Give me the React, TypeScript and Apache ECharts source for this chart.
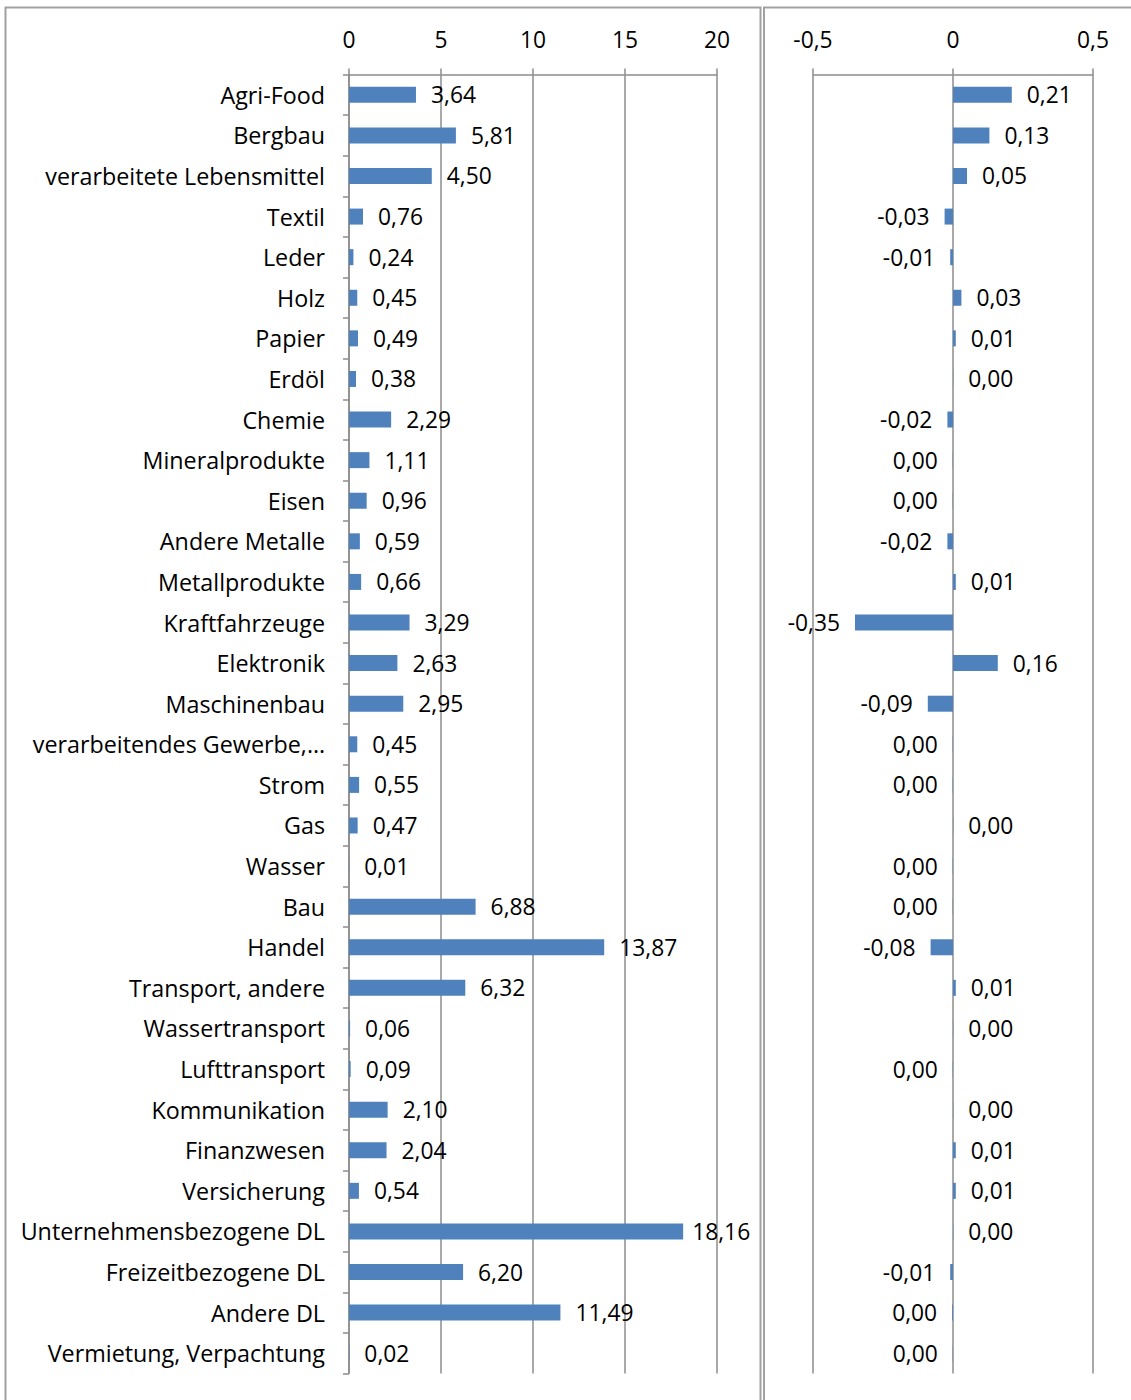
import React, { useEffect, useRef } from "react";
import * as echarts from "echarts";

const categories = [
  "Agri-Food",
  "Bergbau",
  "verarbeitete Lebensmittel",
  "Textil",
  "Leder",
  "Holz",
  "Papier",
  "Erdöl",
  "Chemie",
  "Mineralprodukte",
  "Eisen",
  "Andere Metalle",
  "Metallprodukte",
  "Kraftfahrzeuge",
  "Elektronik",
  "Maschinenbau",
  "verarbeitendes Gewerbe,…",
  "Strom",
  "Gas",
  "Wasser",
  "Bau",
  "Handel",
  "Transport, andere",
  "Wassertransport",
  "Lufttransport",
  "Kommunikation",
  "Finanzwesen",
  "Versicherung",
  "Unternehmensbezogene DL",
  "Freizeitbezogene DL",
  "Andere DL",
  "Vermietung, Verpachtung",
];

const leftValues = [
  3.64, 5.81, 4.5, 0.76, 0.24, 0.45, 0.49, 0.38, 2.29, 1.11, 0.96, 0.59, 0.66,
  3.29, 2.63, 2.95, 0.45, 0.55, 0.47, 0.01, 6.88, 13.87, 6.32, 0.06, 0.09,
  2.1, 2.04, 0.54, 18.16, 6.2, 11.49, 0.02,
];

const rightValues = [
  0.21, 0.13, 0.05, -0.03, -0.01, 0.03, 0.01, 0.001, -0.02, -0.001, -0.001,
  -0.02, 0.01, -0.35, 0.16, -0.09, -0.001, -0.001, 0.001, -0.001, -0.001,
  -0.08, 0.01, 0.001, -0.001, 0.001, 0.01, 0.01, 0.001, -0.01, -0.003, -0.001,
];

const leftTicks = { min: 0, max: 20, interval: 5 };
const rightTicks = { min: -0.5, max: 0.5, interval: 0.5 };

const FONT = "Open Sans";
const FS = 22.8;
const CAT_FS = 23.3;
const GRAY = "#8c8c8c";
const BLUE = "#4f81bd";

function fmtValue(v: number): string {
  const s = Math.abs(v) < 0.005 ? "0.00" : v.toFixed(2);
  return s.replace(".", ",");
}

export default function App() {
  const ref = useRef<HTMLDivElement>(null);
  useEffect(() => {
    if (!ref.current) return;
    const chart = echarts.init(ref.current, null, { renderer: "svg" });
    const top = 74.5;
    const height = 1299;
    const xAxisCommon = (t: any, idx: number) => ({
      type: "value",
      gridIndex: idx,
      position: "top",
      min: t.min,
      max: t.max,
      interval: t.interval,
      axisLine: { show: true, lineStyle: { color: GRAY, width: 1.5 } },
      axisTick: { show: true, length: 6, lineStyle: { color: GRAY, width: 1.5 } },
      splitLine: { show: true, lineStyle: { color: GRAY, width: 1.5 } },
      axisLabel: {
        color: "#000",
        fontFamily: FONT,
        fontSize: FS,
        margin: 24,
        formatter: (v: number) => String(v).replace(".", ","),
      },
    });
    chart.setOption({
      animation: false,
      backgroundColor: "#fff",
      textStyle: { fontFamily: FONT },
      graphic: [
        {
          type: "rect",
          shape: { x: 5.5, y: 7.5, width: 755, height: 1420 },
          style: { fill: "none", stroke: "#a0a0a0", lineWidth: 2 },
          silent: true,
        },
        {
          type: "rect",
          shape: { x: 764, y: 7.5, width: 400, height: 1420 },
          style: { fill: "none", stroke: "#a0a0a0", lineWidth: 2 },
          silent: true,
        },
      ],
      grid: [
        { left: 349, top, width: 368, height },
        { left: 813, top, width: 280, height },
      ],
      xAxis: [xAxisCommon(leftTicks, 0), xAxisCommon(rightTicks, 1)],
      yAxis: [
        {
          type: "category",
          gridIndex: 0,
          inverse: true,
          data: categories,
          axisLine: { show: true, lineStyle: { color: GRAY, width: 1.5 } },
          axisTick: { show: true, length: 6, lineStyle: { color: GRAY, width: 1.5 } },
          axisLabel: {
            color: "#000",
            fontFamily: FONT,
            fontSize: CAT_FS,
            margin: 24,
            interval: 0,
          },
        },
        {
          type: "category",
          gridIndex: 1,
          inverse: true,
          data: categories,
          axisLine: { show: false },
          axisTick: { show: false },
          axisLabel: { show: false },
        },
      ],
      series: [
        {
          type: "bar",
          xAxisIndex: 0,
          yAxisIndex: 0,
          data: leftValues.map((v) => ({
            value: v,
            label: { distance: v > 17 ? 9 : 15 },
          })),
          barWidth: 16,
          itemStyle: { color: BLUE },
          label: {
            show: true,
            position: "right",
            distance: 15,
            color: "#000",
            fontFamily: FONT,
            fontSize: FS,
            formatter: (p: any) => fmtValue(p.value),
          },
        },
        {
          type: "bar",
          xAxisIndex: 1,
          yAxisIndex: 1,
          data: rightValues.map((v) => ({
            value: v,
            label: { position: v < 0 ? "left" : "right" },
          })),
          barWidth: 16,
          itemStyle: { color: BLUE },
          label: {
            show: true,
            distance: 15,
            color: "#000",
            fontFamily: FONT,
            fontSize: FS,
            formatter: (p: any) => fmtValue(p.value),
          },
        },
      ],
    });
    return () => chart.dispose();
  }, []);
  return (
    <div
      ref={ref}
      style={{ position: "absolute", left: 0, top: 0, width: 1131, height: 1400 }}
    />
  );
}
